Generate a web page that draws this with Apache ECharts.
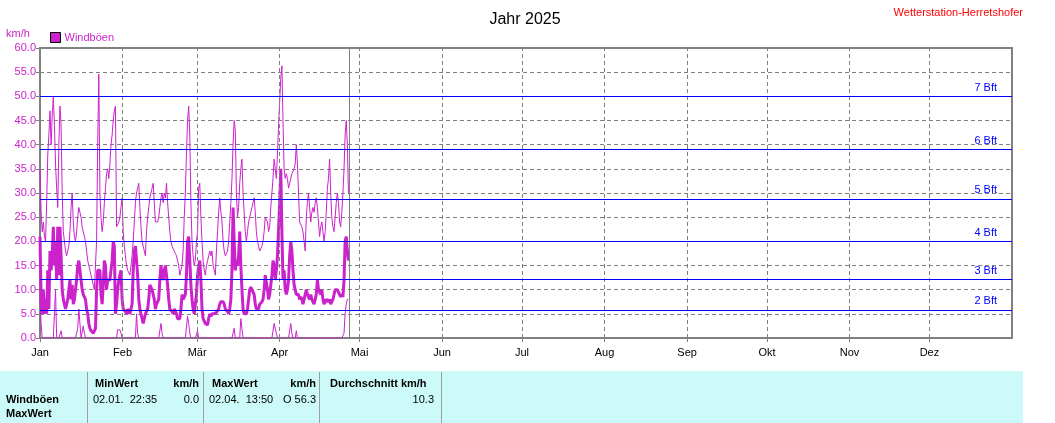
<!DOCTYPE html>
<html>
<head>
<meta charset="utf-8">
<script src="https://cdn.jsdelivr.net/npm/echarts@6/dist/echarts.min.js"></script>
<style>
html,body{margin:0;padding:0;background:#fff;}
#chart{width:1055px;height:423px;}
</style>
</head>
<body>
<div id="chart"></div>
<script>
// ---- data ----
const months = ['Jan','Feb','Mär','Apr','Mai','Jun','Jul','Aug','Sep','Okt','Nov','Dez'];
const monthStartDays = [0,31,59,90,120,151,181,212,243,273,304,334];
const yearDays = 365;
const todayDay = 116;
const sampleStepHours = 10;
const yMin = 0, yMax = 60, yStep = 5;

const gustMax = [
35,26,22, 24,21,20, 28,38,42, 47,40,46, 50,44,36, 31,27,40, 48,44,30, 22,20,18, 17,18,19, 22,27,30,
24,21,20, 22,25,27, 27,25,23, 22,21,20, 18,16,15, 14,13,12, 11,10,10, 20,40,54.6, 30,25,22, 24,28,31,
34,35,33, 36,40,42, 45,47,48, 23,23,24, 25,27,29, 22,19,17, 15,14,14, 13,15,17, 20,24,28, 30,31,32,
27,23,20, 19,18,17, 22,25,27, 29,30,31, 32,28,24, 24,24,25, 27,29,30, 28,30,29, 32,28,25, 22,20,19,
19,18,17.5, 17,16,15, 13,14,15, 18,25,30, 38,45,48, 42,28,20, 17,15,16, 20,22,31, 32,25,20, 16,14,13,
15,16,17, 18,17,18, 15,14,13, 18,22,26, 29,26,24, 20,18,17, 17,18,20, 24,28,33, 40,45,43, 30,25,27,
32,35,37, 30,26,22, 20,22,24, 25,26,27, 28,29,26, 22,20,19, 18,18,19, 20,22,25, 25,24,22, 23,27,30,
33,37,35, 33,38,44, 49,53.7,56.3, 45,35,33, 34,33,31, 32,33,34, 34,35,36, 40,36,30, 24,24,23, 22,20,18,
25,28,30, 27,24,26, 27,26,28, 29,27,24, 21,23,24, 22,20,22, 26,31,33, 37,30,25, 23,22,25, 28,30,28,
24,23,26, 30,35,42, 45,40,30
];
const gustAvg = [
21,8,5, 10,5,8, 5,14,6, 18,14,17, 23,15,20, 12,23,13, 23,17,10, 8,7,6, 6,8,10, 12,8,11,
7,8,10, 12,15,16, 14,12,10, 9,9,8, 6,5,3, 2,1.5,1.2, 1,1.5,2, 10,14,14, 14,9,7, 11,16,15,
10,12,12, 12,14,16, 20,19,5, 7,10,12, 13,14,8, 6,6,5.5, 5,6,6, 5,6,7, 14,18,19, 16,13,8,
6,5,4, 3,4,5, 5,6,8, 11,11,10, 9,8,6, 7,7,8, 12,15,13, 12,14,15, 13,11,8, 6,6,5.5,
5,6,5.5, 5,4,4, 4,6,9, 8,8,9, 13,20,21, 16,11,8, 6,5,7, 9,13,15, 16,12,6, 4,3.5,3,
3,2.7,4, 5,4.5,5, 5,5,5, 5.3,5.5,6, 7,7.5,7.5, 7.5,7,6, 6,5.5,5, 6,8,14, 27,20,14, 16,15,17,
22,15,10, 6,5,5, 5,6,8, 10,10.5,10, 10,9,7, 6,6,6, 7,7,7.5, 8,10,13, 13,10,8, 9,11,13,
16,15,12, 14,17,17, 28,35,22, 12,14,10, 9,10,12, 17,20,18, 14,11,10, 9,9,9, 8,8.5,8, 7,7,9,
10,9,9, 8,9,8, 8,7,8, 9,12,10, 10,9,10, 8,7,7.5, 8,8,7.5, 8,7,7, 8,9,10, 10,10,9.5,
9,8.5,9, 8.5,12,20, 21,18,16
];
const gustMin = [
8,3,0, 0,0,0, 0,0,0, 0,0,0, 0,5,10, 0,0,0, 0,1.5,0, 0,0,0, 0,0,0, 0,0,0,
0,0,0, 0,2,6, 3,0,0, 2.5,1,0, 0,0,0, 0,0,0, 0,0,0, 0,0,0, 0,0,0, 0,0,0,
0,0,0, 0,0,0, 0,0,0, 0,1.7,1.7, 1.7,1,0, 0,0,0, 0,0,0, 0,0,0, 0,0,0, 5,1,0,
0,0,0, 0,0,0, 0,0,0, 0,0,0, 0,0,0, 0,0,0, 0,3,1, 0,0,0, 0,0,0, 0,0,0,
0,0,0, 0,0,0, 0,0,0, 0,0,0, 0,4.5,3, 1,0,0, 0,0,0, 0,1.5,0, 0,0,0, 0,0,0,
0,0,0, 0,0,0, 0,0,0, 0,0,0, 0,0,0, 0,0,0, 0,0,0, 0,0,0, 0,2,0, 0,0,0,
0,4,2, 0,0,0, 0,0,0, 0,0,0, 0,0,0, 0,0,0, 0,0,0, 0,0,0, 0,0,0, 0,0,0,
0,3,3, 1,0,0, 0,0,0, 0,0,0, 0,0,0, 0,3,1, 0,0,0, 1.5,0,0, 0,0,0, 0,0,0,
0,0,0, 0,0,0, 0,0,0, 0,0,0, 0,0,0, 0,0,0, 0,0,0, 0,0,0, 0,0,0, 0,0,0,
0,0,0, 0,1,5, 7,8,8
];

const beaufortLevels = [5.8, 12.2, 20, 28.8, 39, 50];
const beaufortLabels = ['2 Bft','3 Bft','4 Bft','5 Bft','6 Bft','7 Bft'];

const titleText = 'Jahr 2025';
const stationText = 'Wetterstation-Herretshofer';
const seriesName = 'Windböen';
const unitText = 'km/h';
const tableHeaders = ['MinWert','km/h','MaxWert','km/h','Durchschnitt km/h'];
const tableRowLabels = ['Windböen','MaxWert'];
const tableValues = ['02.01.  22:35','0.0','02.04.  13:50','O 56.3','10.3'];

// ---- styling ----
const MAG = '#CC22CC';
const GRAY = '#808080';
const BLUE = '#0000FF';
const FONT = 'Liberation Sans, Arial, sans-serif';

const toXY = arr => arr.map((v, i) => [i * sampleStepHours / 24, v]);

const chart = echarts.init(document.getElementById('chart'), null, {renderer: 'canvas'});

const monthLines = monthStartDays.slice(1).map(d => ({xAxis: d}));
monthLines.push({xAxis: todayDay, lineStyle: {type: 'solid', color: GRAY, width: 1}});

const bftLines = beaufortLevels.map((v, i) => ({
  yAxis: v,
  label: {formatter: beaufortLabels[i]}
}));

const option = {
  animation: false,
  backgroundColor: '#fff',
  textStyle: {fontFamily: FONT},
  title: {
    text: titleText,
    left: 520, top: 7, textAlign: 'center',
    textStyle: {fontSize: 16, fontWeight: 'normal', color: '#000', fontFamily: FONT}
  },
  legend: {
    left: 50, top: 32, padding: 0,
    itemWidth: 10, itemHeight: 10, itemGap: 4,
    textStyle: {color: MAG, fontSize: 11, fontFamily: FONT, padding: [0, 0, 0, -1]},
    data: [{name: seriesName, icon: 'rect', itemStyle: {color: MAG, borderColor: '#000', borderWidth: 1}}]
  },
  grid: {
    left: 40, top: 48, width: 972, height: 290,
    show: true, borderColor: GRAY, borderWidth: 2, backgroundColor: 'transparent'
  },
  xAxis: {
    type: 'value', min: 0, max: yearDays,
    axisLine: {show: true, lineStyle: {color: GRAY, width: 2}},
    axisTick: {show: true, customValues: monthStartDays, length: 4, lineStyle: {color: GRAY}},
    axisLabel: {
      customValues: monthStartDays,
      formatter: v => months[monthStartDays.indexOf(v)] || '',
      color: '#000', fontSize: 11, fontFamily: FONT, margin: 9
    },
    splitLine: {show: false}
  },
  yAxis: {
    type: 'value', min: yMin, max: yMax, interval: yStep,
    axisLine: {show: true, lineStyle: {color: GRAY, width: 2}},
    axisTick: {show: true, length: 4, lineStyle: {color: GRAY}},
    axisLabel: {formatter: v => v.toFixed(1), color: MAG, fontSize: 11, fontFamily: FONT, margin: 4},
    splitLine: {show: true, lineStyle: {color: GRAY, type: [4, 3], width: 1}}
  },
  graphic: [
    {type: 'text', left: 6, top: 28, style: {text: unitText, fill: MAG, font: '11px ' + FONT}},
    {type: 'text', right: 32, top: 7, style: {text: stationText, fill: '#FF0000', font: '11px ' + FONT}},
    {type: 'rect', shape: {x: 0, y: 371, width: 1023, height: 52}, style: {fill: '#CCFAF8'}, z: 0},
    ...[87.5, 203.5, 319.5, 441.5].map(x => ({
      type: 'line', shape: {x1: x, y1: 372, x2: x, y2: 423}, style: {stroke: '#A0A0A0', lineWidth: 1}, z: 1
    })),
    {type: 'text', x: 95, y: 383.5, style: {text: tableHeaders[0], fill: '#000', font: 'bold 11px ' + FONT, textVerticalAlign: 'middle'}, z: 2},
    {type: 'text', x: 199, y: 383.5, style: {text: tableHeaders[1], fill: '#000', font: 'bold 11px ' + FONT, textAlign: 'right', textVerticalAlign: 'middle'}, z: 2},
    {type: 'text', x: 212, y: 383.5, style: {text: tableHeaders[2], fill: '#000', font: 'bold 11px ' + FONT, textVerticalAlign: 'middle'}, z: 2},
    {type: 'text', x: 316, y: 383.5, style: {text: tableHeaders[3], fill: '#000', font: 'bold 11px ' + FONT, textAlign: 'right', textVerticalAlign: 'middle'}, z: 2},
    {type: 'text', x: 330, y: 383.5, style: {text: tableHeaders[4], fill: '#000', font: 'bold 11px ' + FONT, textVerticalAlign: 'middle'}, z: 2},
    {type: 'text', x: 6, y: 400, style: {text: tableRowLabels[0], fill: '#000', font: 'bold 11px ' + FONT, textVerticalAlign: 'middle'}, z: 2},
    {type: 'text', x: 6, y: 414, style: {text: tableRowLabels[1], fill: '#000', font: 'bold 11px ' + FONT, textVerticalAlign: 'middle'}, z: 2},
    {type: 'text', x: 93, y: 400, style: {text: tableValues[0], fill: '#000', font: '11px ' + FONT, textVerticalAlign: 'middle'}, z: 2},
    {type: 'text', x: 199, y: 400, style: {text: tableValues[1], fill: '#000', font: '11px ' + FONT, textAlign: 'right', textVerticalAlign: 'middle'}, z: 2},
    {type: 'text', x: 209, y: 400, style: {text: tableValues[2], fill: '#000', font: '11px ' + FONT, textVerticalAlign: 'middle'}, z: 2},
    {type: 'text', x: 316, y: 400, style: {text: tableValues[3], fill: '#000', font: '11px ' + FONT, textAlign: 'right', textVerticalAlign: 'middle'}, z: 2},
    {type: 'text', x: 434, y: 400, style: {text: tableValues[4], fill: '#000', font: '11px ' + FONT, textAlign: 'right', textVerticalAlign: 'middle'}, z: 2}
  ],
  series: [
    {
      name: 'grid-helper', type: 'line', data: [], z: 1, silent: true,
      markLine: {
        silent: true, symbol: 'none', animation: false,
        lineStyle: {color: GRAY, type: [4, 3], width: 1},
        label: {show: false},
        data: monthLines
      }
    },
    {
      name: 'bft-helper', type: 'line', data: [], z: 1, silent: true,
      markLine: {
        silent: true, symbol: 'none', animation: false,
        lineStyle: {color: BLUE, type: 'solid', width: 1},
        label: {show: true, position: 'insideEndTop', color: BLUE, fontSize: 11, fontFamily: FONT, distance: [15, 3]},
        data: bftLines
      }
    },
    {
      name: seriesName, type: 'line', data: toXY(gustMax), z: 3,
      showSymbol: false, symbol: 'none',
      lineStyle: {color: MAG, width: 1}, itemStyle: {color: MAG}
    },
    {
      name: 'Mittel', type: 'line', data: toXY(gustAvg), z: 3,
      showSymbol: false, symbol: 'none',
      lineStyle: {color: MAG, width: 3}, itemStyle: {color: MAG}
    },
    {
      name: 'Min', type: 'line', data: toXY(gustMin), z: 3,
      showSymbol: false, symbol: 'none',
      lineStyle: {color: MAG, width: 1}, itemStyle: {color: MAG}
    }
  ]
};
chart.setOption(option);
</script>
</body>
</html>
